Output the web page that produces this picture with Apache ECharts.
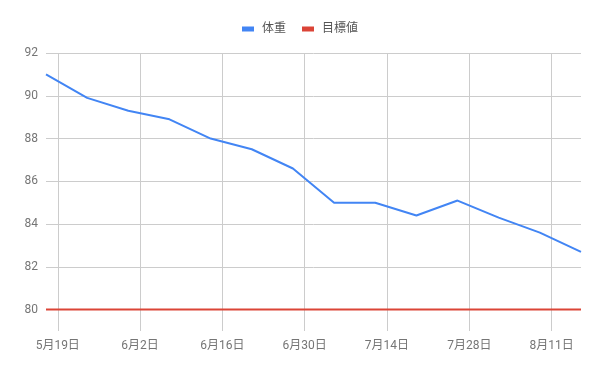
<!DOCTYPE html>
<html><head><meta charset="utf-8">
<script src="https://cdn.jsdelivr.net/npm/echarts@6/dist/echarts.min.js"></script>
<style>html,body{margin:0;padding:0;background:#fff}#c{width:600px;height:371px}</style>
</head><body><div id="c"></div>
<script>
const dates = ['2019-05-17','2019-05-24','2019-05-31','2019-06-07','2019-06-14','2019-06-21','2019-06-28','2019-07-05','2019-07-12','2019-07-19','2019-07-26','2019-08-02','2019-08-09','2019-08-16'];
const weight = [91.0, 89.9, 89.3, 88.9, 88.0, 87.5, 86.6, 85.0, 85.0, 84.4, 85.1, 84.3, 83.6, 82.7];
const target = [80, 80, 80, 80, 80, 80, 80, 80, 80, 80, 80, 80, 80, 80];
const xTickDates = ['2019-05-19','2019-06-02','2019-06-16','2019-06-30','2019-07-14','2019-07-28','2019-08-11'];
const yTicks = [80, 82, 84, 86, 88, 90, 92];
const seriesNames = ['体重', '目標値'];

// day number relative to a reference date
const DAY = 86400000;
const ref = Date.UTC(2019, 4, 5);
const dn = s => { const p = s.split('-').map(Number); return Math.round((Date.UTC(p[0], p[1]-1, p[2]) - ref) / DAY); };
const xTicks = xTickDates.map(dn);
const fmt = v => { const d = new Date(ref + v * DAY); return (d.getUTCMonth()+1) + '月' + d.getUTCDate() + '日'; };
const font = 'Roboto, "Noto Sans CJK JP", sans-serif';

const chart = echarts.init(document.getElementById('c'));
chart.setOption({
  animation: false,
  legend: {
    top: 18, left: 'center',
    itemWidth: 12, itemHeight: 5, itemGap: 16, icon: 'rect',
    textStyle: { color: '#555', fontSize: 12, fontFamily: font, padding: [0, 0, 0, 3] },
    data: seriesNames
  },
  grid: { left: 46, right: 19, top: 53, bottom: 40, containLabel: false },
  xAxis: {
    type: 'value',
    min: dn(dates[0]), max: dn(dates[dates.length-1]),
    axisLine: { show: false },
    axisTick: { show: false, customValues: xTicks },
    axisLabel: { customValues: xTicks, formatter: fmt, color: '#757575', fontSize: 12, fontFamily: font, margin: 9 },
    splitLine: { show: true, lineStyle: { color: '#cccccc', width: 1 } }
  },
  yAxis: {
    type: 'value',
    min: 79, max: 92,
    axisLine: { show: false },
    axisTick: { show: false, customValues: yTicks },
    axisLabel: { customValues: yTicks, color: '#757575', fontSize: 12, fontFamily: font, margin: 8 },
    splitLine: { show: true, lineStyle: { color: '#cccccc', width: 1 } }
  },
  series: [
    { name: seriesNames[0], type: 'line', data: dates.map((d,i)=>[dn(d), weight[i]]), symbol: 'none', lineStyle: { color: '#4285F4', width: 2 }, itemStyle: { color: '#4285F4' }, z: 3 },
    { name: seriesNames[1], type: 'line', data: dates.map((d,i)=>[dn(d), target[i]]), symbol: 'none', lineStyle: { color: '#DB4437', width: 2 }, itemStyle: { color: '#DB4437' }, z: 2 }
  ]
});
</script></body></html>
